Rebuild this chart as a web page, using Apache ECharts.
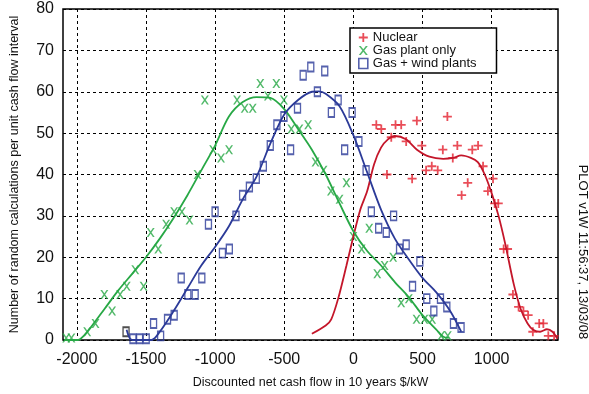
<!DOCTYPE html>
<html>
<head>
<meta charset="utf-8">
<script src="https://cdn.jsdelivr.net/npm/echarts@6/dist/echarts.min.js"></script>
<style>html,body{margin:0;background:#fff}#chart{width:589px;height:394px}</style>
</head>
<body>
<div id="chart"></div>
<script>
// scatter counts, [cash flow $/kW, count]
const nuclearPts = [[166,52],[202,51],[243,40],[274,49],[305,52],[346,52],[382,48],[425,39],[459,53],[495,47],[526,41],[567,42],[610,41],[647,46],[680,54],[719,44],[752,47],[783,35],[827,38],[860,46],[902,47],[938,42],[973,36],[1010,39],[1022,33],[1048,33],[1087,22],[1115,22],[1154,11],[1195,8],[1230,7],[1264,6],[1298,2],[1344,4],[1374,4],[1410,1],[1452,1]]
const gasPts = [[-2077,0.5],[-2039,0.5],[-1925,2],[-1865,4],[-1801,11],[-1745,7],[-1687,11],[-1639,13],[-1577,17],[-1517,13],[-1466,26],[-1411,22],[-1354,28],[-1296,31],[-1240,31],[-1185,29],[-1127,40],[-1074,58],[-1014,46],[-957,44],[-899,46],[-841,58],[-786,56],[-728,56],[-673,62],[-618,59],[-557,62],[-502,58],[-449,51],[-390,51],[-327,52],[-274,43],[-216,41],[-162,36],[-100,34],[-50,38],[0,25],[60,22],[115,27],[173,16],[226,18],[288,20],[346,9],[401,10],[457,5],[514,5],[570,5],[635,1],[683,1]]
const windPts = [[-1594,0.3],[-1546,0.3],[-1498,0.3],[-1445,4],[-1394,1],[-1344,5],[-1296,6],[-1245,15],[-1197,11],[-1144,11],[-1096,15],[-1048,28],[-1000,31],[-947,21],[-897,22],[-849,30],[-801,35],[-752,37],[-702,39],[-651,42],[-601,47],[-553,52],[-502,54],[-454,46],[-404,56],[-363,64],[-308,66],[-260,60],[-207,65],[-159,55],[-110,58],[-63,46],[-9,55],[40,48],[92,41],[130,31],[183,27],[238,26],[291,30],[334,22],[382,23],[428,13],[481,19],[531,10],[582,7],[630,10],[676,8],[724,4],[779,3]]
const windOddPt = [-1644,2] // the one black-edged box

// fitted curves
const nuclearLine = [[-300,1.5],[-200,3.5],[-160,5],[-110,10],[-50,18],[0,25],[50,31.5],[100,36],[150,42.5],[200,46.5],[250,48.5],[300,49.3],[380,48.5],[460,46],[550,44.3],[650,43.8],[720,44],[780,44.6],[850,44],[900,43],[950,40],[1000,35.5],[1050,30],[1100,23],[1160,13.5],[1210,7.5],[1260,4],[1300,2.5],[1350,2],[1400,2.6],[1440,2],[1476,0.3]]
const gasLine = [[-2090,0],[-1990,0],[-1950,1],[-1900,3],[-1800,7.5],[-1700,12],[-1600,16],[-1500,20],[-1400,24.5],[-1300,29.5],[-1200,35],[-1100,41],[-1000,47],[-900,54],[-800,57.5],[-700,58.7],[-600,58.5],[-500,55.8],[-400,51],[-300,46],[-200,40],[-100,33],[0,26.3],[100,21.5],[200,18],[300,14],[400,10.4],[500,6],[600,2.5],[650,0.8],[690,0.5]]
const windLine = [[-1640,2.5],[-1600,0],[-1460,0],[-1400,2],[-1300,7],[-1200,12.5],[-1100,18],[-1000,22.5],[-900,27.5],[-800,34],[-700,39.5],[-600,47.5],[-500,54.5],[-400,58],[-300,60],[-250,60.1],[-200,59.5],[-100,56.5],[0,49.5],[100,40.5],[200,31.5],[300,24.5],[400,19.5],[500,15],[600,11.5],[700,7],[780,2]]

const xTicks = [-2000,-1500,-1000,-500,0,500,1000]
const seriesNames = ['Nuclear', 'Gas plant only', 'Gas + wind plants']

const FONT = '"Liberation Sans", Arial, sans-serif'
const RED = '#e3202e', RED_LINE = '#c4162a', GREEN = '#27a845', BLUE = '#2b3a98'
const PLUS = 'path://M4,0H6V4H10V6H6V10H4V6H0V4H4Z'
const XMARK = 'path://M0,0H2.2L5,3.6L7.8,0H10L6.1,5L10,10H7.8L5,6.4L2.2,10H0L3.9,5Z'
const dash = { color:'#000', width:1, type:[3,3] }

const chart = echarts.init(document.getElementById('chart'))
chart.setOption({
  animation: false,
  backgroundColor: '#fff',
  textStyle: { fontFamily: FONT },
  grid: { left: 62, right: 31, top: 9, bottom: 53, show: true, borderColor: '#000', borderWidth: 1.5, backgroundColor: 'transparent' },
  legend: {
    orient: 'vertical', left: 350, top: 28, padding: [3,20,3,8], itemGap: 0,
    itemWidth: 9, itemHeight: 10, borderColor: '#000', borderWidth: 1.5, backgroundColor: '#fff',
    textStyle: { fontSize: 13, color: '#111', fontFamily: FONT, lineHeight: 13 },
    data: [
      { name: seriesNames[0], icon: PLUS, itemStyle: { color: RED } },
      { name: seriesNames[1], icon: XMARK, itemStyle: { color: GREEN } },
      { name: seriesNames[2], icon: 'rect', itemStyle: { color: 'rgba(0,0,0,0)', borderColor: BLUE, borderWidth: 1.6 } },
    ],
  },
  xAxis: {
    type: 'value', min: -2100, max: 1480,
    name: 'Discounted net cash flow in 10 years $/kW', nameLocation: 'middle', nameGap: 36,
    nameTextStyle: { fontSize: 12.5, color: '#111', fontFamily: FONT },
    axisLine: { show: false }, axisTick: { show: false, customValues: xTicks },
    axisLabel: { customValues: xTicks, fontSize: 16, color: '#111', margin: 12, fontFamily: FONT, formatter: v => String(v) },
    splitLine: { show: true, lineStyle: dash },
  },
  yAxis: {
    type: 'value', min: 0, max: 80, interval: 10,
    name: 'Number of random calculations per unit cash flow interval', nameLocation: 'middle', nameGap: 42,
    nameTextStyle: { fontSize: 12.5, color: '#111', fontFamily: FONT },
    axisLine: { show: false }, axisTick: { show: false },
    axisLabel: { fontSize: 16, color: '#111', margin: 9, fontFamily: FONT },
    splitLine: { show: true, lineStyle: dash },
  },
  graphic: [{
    type: 'text', x: 583, y: 252, rotation: -Math.PI / 2,
    style: { text: 'PLOT v1W 11:56:37, 13/03/08', fontSize: 13, fill: '#111', fontFamily: FONT, align: 'center', verticalAlign: 'middle' },
  }],
  series: [
    { name: seriesNames[0], type: 'scatter', data: nuclearPts, symbol: PLUS, symbolSize: 9, itemStyle: { color: RED } },
    { name: seriesNames[1], type: 'scatter', data: gasPts, symbol: XMARK, symbolSize: [8,9], itemStyle: { color: GREEN } },
    { name: seriesNames[2], type: 'scatter', symbol: 'rect', symbolSize: [6,9],
      itemStyle: { color: 'rgba(0,0,0,0)', borderColor: BLUE, borderWidth: 1.6 },
      data: [{ value: windOddPt, itemStyle: { borderColor: '#222' } }, ...windPts] },
    { name: 'nuclear fit', type: 'line', data: nuclearLine, showSymbol: false, smooth: 0.3, lineStyle: { color: RED_LINE, width: 1.8 }, z: 3 },
    { name: 'gas fit', type: 'line', data: gasLine, showSymbol: false, smooth: 0.3, lineStyle: { color: GREEN, width: 1.8 }, z: 3 },
    { name: 'wind fit', type: 'line', data: windLine, showSymbol: false, smooth: 0.3, lineStyle: { color: BLUE, width: 1.8 }, z: 3 },
  ],
})
</script>
</body>
</html>
